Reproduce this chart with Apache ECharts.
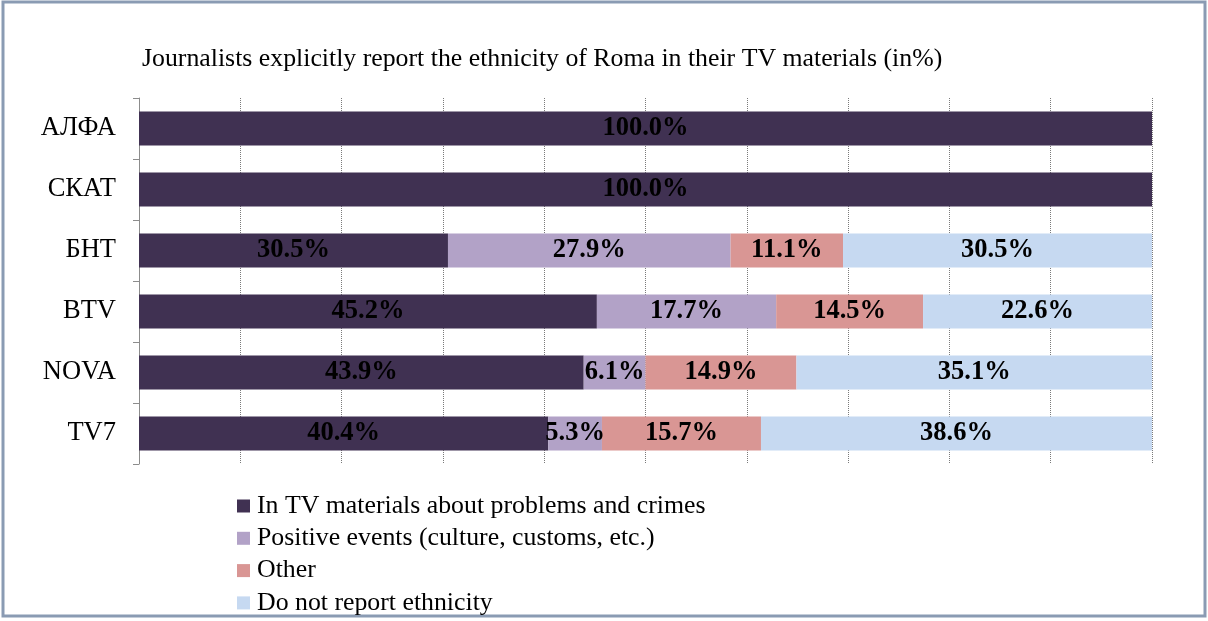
<!DOCTYPE html>
<html>
<head>
<meta charset="utf-8">
<script src="https://cdn.jsdelivr.net/npm/echarts@6/dist/echarts.min.js"></script>
<style>
html,body{margin:0;padding:0;background:#fff;}
#chart{width:1208px;height:621px;}
</style>
</head>
<body>
<div id="chart"></div>
<script>
const titleText = 'Journalists explicitly report the ethnicity of Roma in their TV materials (in%)';
const categories = ['АЛФА', 'СКАТ', 'БНТ', 'BTV', 'NOVA', 'TV7'];
const seriesNames = [
  'In TV materials about problems and crimes',
  'Positive events (culture, customs, etc.)',
  'Other',
  'Do not report ethnicity'
];
const problemsCrimes = [100.0, 100.0, 30.5, 45.2, 43.9, 40.4];
const positiveEvents = [0, 0, 27.9, 17.7, 6.1, 5.3];
const other = [0, 0, 11.1, 14.5, 14.9, 15.7];
const notReported = [0, 0, 30.5, 22.6, 35.1, 38.6];
const colors = ['#403152', '#b2a2c7', '#d99694', '#c6d9f1'];

const seriesData = [problemsCrimes, positiveEvents, other, notReported];
const serif = '"Liberation Serif", "DejaVu Serif", serif';

const chart = echarts.init(document.getElementById('chart'));
chart.setOption({
  animation: false,
  backgroundColor: '#ffffff',
  title: {
    text: titleText,
    left: 142,
    top: 46,
    padding: 0,
    textStyle: { fontFamily: serif, fontSize: 25.8, fontWeight: 'normal', color: '#000' }
  },
  graphic: [{
    type: 'rect',
    shape: { x: 3, y: 2, width: 1202, height: 614 },
    style: { fill: 'none', stroke: '#8a9bb3', lineWidth: 3 },
    silent: true
  }],
  legend: {
    orient: 'vertical',
    left: 237,
    top: 493,
    padding: 0,
    itemWidth: 13,
    itemHeight: 13,
    itemGap: 6.3,
    icon: 'rect',
    textStyle: { fontFamily: serif, fontSize: 25.8, color: '#000', lineHeight: 24, padding: [0, 0, 0, 2] },
    data: seriesNames
  },
  grid: { left: 139, right: 56, top: 98, bottom: 157, containLabel: false },
  xAxis: {
    type: 'value',
    min: 0,
    max: 100,
    interval: 10,
    axisLine: { show: false },
    axisTick: { show: false },
    axisLabel: { show: false },
    splitLine: { show: true, lineStyle: { type: 'dotted', color: '#7a7a7a', width: 1 } }
  },
  yAxis: {
    type: 'category',
    data: categories,
    inverse: true,
    axisLine: { show: true, lineStyle: { color: '#8c8c8c', width: 1 } },
    axisTick: { show: true, length: 6, lineStyle: { color: '#8c8c8c' } },
    axisLabel: { fontFamily: serif, fontSize: 26.5, color: '#000', margin: 23 }
  },
  series: seriesNames.map((name, i) => ({
    name: name,
    type: 'bar',
    stack: 'total',
    barWidth: 34,
    data: seriesData[i],
    itemStyle: { color: colors[i] },
    label: {
      show: true,
      position: 'inside',
      fontFamily: serif,
      fontSize: 26.5,
      fontWeight: 'bold',
      color: '#000',
      formatter: p => (p.value > 0 ? p.value.toFixed(1) + '%' : '')
    }
  }))
});
</script>
</body>
</html>
